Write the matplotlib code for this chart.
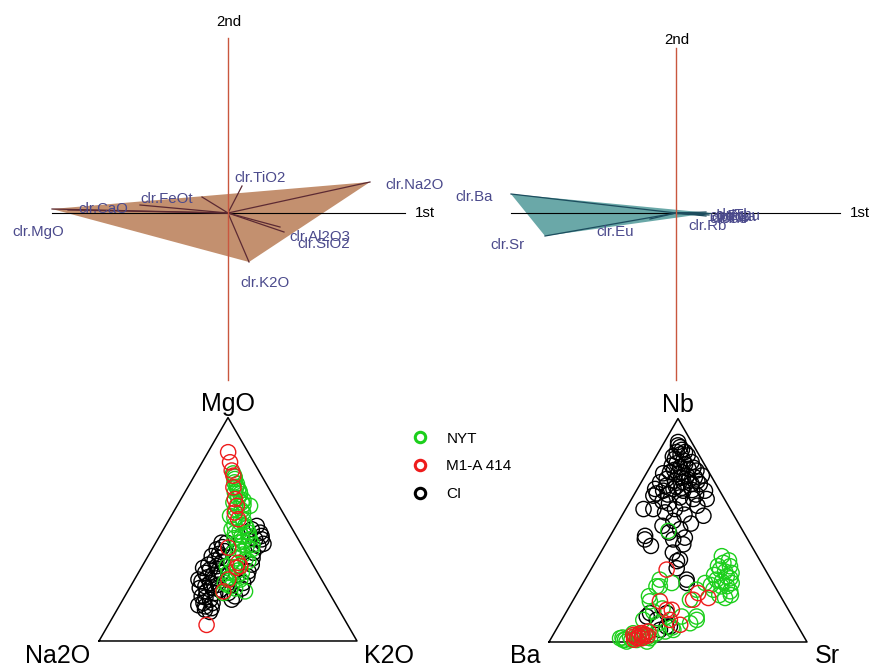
import numpy as np
import matplotlib.pyplot as plt
from matplotlib.lines import Line2D

plt.rcParams['font.family'] = ['Liberation Sans', 'DejaVu Sans']

# ---- biplot loadings (1st, 2nd component) ----
maj_names = ['clr.SiO2', 'clr.TiO2', 'clr.Al2O3', 'clr.FeOt', 'clr.MnO',
             'clr.MgO', 'clr.CaO', 'clr.Na2O', 'clr.K2O']
maj_pc1 = [0.56, 0.14, 0.52, -0.88, -0.26, -1.76, -1.60, 1.42, 0.21]
maj_pc2 = [-0.19, 0.27, -0.14, 0.08, 0.16, 0.04, 0.03, 0.31, -0.49]

tr_names = ['clr.Rb', 'clr.Zr', 'clr.Nb', 'clr.Th', 'clr.La', 'clr.Ce',
            'clr.Y', 'clr.Lu', 'clr.Ba', 'clr.Sr', 'clr.Eu']
tr_pc1 = [0.34, 0.30, 0.33, 0.31, 0.28, 0.29, 0.27, 0.30, -1.65, -1.31, -0.26]
tr_pc2 = [0.00, 0.01, -0.02, 0.00, -0.01, 0.00, -0.02, -0.03, 0.19, -0.23, -0.06]

# ---- ternary MgO - Na2O - K2O (percent; Na2O is the rest) ----
nyt_mgo = [75.0, 73.5, 72.5, 70.3, 68.0, 66.5, 65.8, 60.5, 62.0, 57.5, 53.0, 51.5,
           48.5, 47.0, 45.5, 44.0, 42.5, 39.5, 38.7, 35.0, 35.7, 30.5, 29.0, 26.0,
           24.5, 22.2, 21.5, 56.0, 50.0, 41.0, 27.5, 62.0, 48.5, 41.0, 33.5, 30.5,
           71.0, 69.0, 67.0, 64.0, 63.0, 61.0, 59.0, 58.5, 55.0, 54.0, 52.0, 50.5,
           49.0, 47.0, 46.0, 44.5, 43.0, 40.0, 37.0, 36.5, 33.0, 31.5, 28.5, 25.0,
           23.5]
nyt_k2o = [14.5, 15.8, 16.4, 18.3, 20.0, 19.4, 21.8, 28.3, 24.3, 27.1, 28.2, 30.9,
           33.7, 31.8, 35.8, 32.0, 36.0, 32.3, 36.5, 33.9, 40.0, 34.9, 38.9, 35.8,
           39.2, 45.5, 37.5, 22.8, 26.4, 38.7, 41.0, 21.1, 28.5, 33.5, 32.8, 40.1,
           17.0, 18.8, 21.0, 22.0, 24.5, 25.5, 23.5, 26.0, 25.0, 29.0, 26.5, 32.0,
           30.0, 34.5, 29.5, 33.5, 38.0, 35.5, 34.5, 38.5, 36.0, 38.0, 36.5, 37.5,
           41.0]
m1a_mgo = [84.5, 80.0, 76.3, 74.0, 63.5, 60.5, 57.5, 54.5, 41.8, 35.0, 32.7, 27.5,
           22.2, 7.2, 68.8, 33.5]
m1a_k2o = [7.8, 10.8, 13.3, 15.1, 20.9, 23.2, 23.9, 26.7, 29.2, 36.5, 37.0, 36.4,
           37.1, 38.1, 17.7, 38.0]
ci_mgo = [44.0, 41.0, 40.2, 38.0, 37.2, 34.2, 33.5, 30.5, 29.7, 30.5, 26.7, 26.0,
          25.2, 23.7, 22.2, 21.5, 20.0, 18.5, 15.5, 14.7, 21.5, 44.0, 27.5, 32.7,
          51.5, 48.5, 45.5, 45.5, 42.5, 39.5, 34.2, 31.2, 26.0, 50.0, 20.0, 18.5,
          14.0, 13.0, 42.0, 39.0, 36.0, 35.5, 32.0, 31.5, 28.5, 28.0, 24.5, 24.0,
          23.0, 19.5, 17.0, 17.0, 16.0, 47.0, 43.5, 37.0, 29.0, 23.5]
ci_k2o = [25.5, 25.1, 28.7, 24.7, 28.3, 25.3, 28.9, 25.9, 29.4, 32.3, 26.4, 30.0,
          33.6, 27.2, 30.6, 34.3, 29.8, 33.8, 33.4, 36.3, 39.4, 27.5, 24.8, 24.0,
          35.4, 38.2, 40.3, 37.8, 40.5, 40.0, 42.1, 42.3, 42.9, 34.2, 42.7, 42.2,
          34.1, 36.5, 26.8, 27.0, 26.8, 30.0, 27.0, 30.5, 27.8, 31.5, 29.0, 31.8,
          35.5, 31.5, 32.0, 35.5, 30.5, 39.5, 42.0, 41.0, 43.0, 43.5]

# ---- ternary Nb - Ba - Sr (percent; Ba is the rest) ----
nyt_nb = [38.4, 33.9, 32.4, 29.4, 27.9, 26.4, 24.9, 23.4, 22.7, 19.7, 30.9, 35.4,
          26.4, 23.4, 26.4, 24.9, 18.2, 18.9, 11.4, 11.4, 8.4, 9.9, 13.6, 8.4,
          5.4, 0.9, 2.4, 0.9, 2.4, 1.7, 3.9, 1.7, 3.9, 0.2, 0.2, 4.7, 49.7, 24.9,
          27.9, 9.9, 36.5, 34.0, 31.5, 30.0, 28.5, 27.0, 25.5, 25.0, 21.0, 21.0,
          2.0, 1.0, 3.0, 2.0, 1.0, 15.0, 20.5, 6.5]
nyt_sr = [47.8, 53.2, 50.1, 54.2, 51.0, 57.6, 54.4, 52.0, 58.9, 58.4, 55.3, 49.9,
          47.3, 45.5, 34.4, 30.5, 30.0, 45.2, 51.5, 45.7, 38.2, 31.6, 33.6, 50.5,
          45.5, 28.3, 30.2, 33.5, 35.4, 38.3, 39.7, 26.7, 30.7, 30.0, 37.9, 42.7,
          21.4, 29.2, 29.0, 52.3, 51.5, 48.5, 52.5, 49.0, 56.0, 53.5, 50.0, 56.5,
          55.5, 60.0, 27.5, 31.5, 33.0, 37.0, 29.0, 36.5, 28.5, 44.5]
m1a_nb = [32.4, 18.2, 14.4, 7.7, 9.9, 18.9, 21.9, 19.7, 3.2, 3.9, 3.2, 1.7, 4.7,
          1.7, 14.4, 2.5, 3.0, 2.0, 2.8, 1.0, 4.0]
m1a_sr = [29.4, 33.9, 40.4, 47.0, 41.9, 46.4, 46.9, 51.9, 31.1, 33.3, 35.6, 33.2,
          36.2, 35.1, 38.4, 32.0, 34.5, 33.8, 36.8, 32.5, 34.2]
ci_nb = [89.5, 87.2, 85.0, 85.0, 82.0, 81.2, 80.5, 79.0, 78.2, 77.5, 76.7, 76.0,
         75.2, 74.5, 73.7, 74.5, 73.0, 72.2, 71.5, 71.5, 70.7, 70.7, 68.5, 67.7,
         68.5, 67.7, 67.7, 65.5, 64.7, 64.0, 64.0, 59.5, 59.5, 59.5, 56.5, 58.0,
         54.2, 50.5, 47.5, 46.7, 36.2, 36.9, 27.9, 12.9, 9.9, 6.9, 12.9, 11.4,
         6.9, 5.4, 26.4, 45.9, 43.7, 45.9, 88.0, 86.0, 84.0, 83.0, 83.5, 80.0,
         79.5, 78.0, 77.0, 76.0, 75.5, 73.5, 72.5, 72.0, 70.0, 69.5, 69.0, 68.0,
         66.5, 66.0, 66.0, 63.0, 62.0, 62.0, 61.0, 57.0, 52.0, 53.0, 49.0, 43.0,
         40.0, 33.0]
ci_sr = [5.3, 7.2, 7.0, 10.2, 7.8, 11.5, 15.0, 8.1, 11.7, 15.3, 18.8, 8.9,
         12.5, 16.2, 19.7, 22.0, 9.1, 12.7, 16.4, 7.3, 19.9, 23.1, 6.9, 10.4,
         14.0, 18.2, 26.6, 7.7, 18.4, 23.9, 29.1, 6.9, 10.7, 19.1, 31.6, 16.0,
         21.1, 25.6, 13.5, 29.3, 31.5, 32.3, 39.4, 32.7, 36.8, 43.4, 39.2, 32.2,
         42.1, 40.3, 40.2, 25.2, 30.2, 14.2, 6.0, 8.5, 9.0, 6.5, 12.0, 9.5,
         13.0, 17.0, 10.0, 13.5, 6.5, 14.5, 18.0, 21.5, 10.5, 14.5, 17.0, 21.5,
         8.5, 13.0, 24.0, 12.5, 15.5, 21.0, 27.0, 24.0, 18.0, 28.5, 22.0, 18.0,
         28.0, 33.0]

group_labels = ['NYT', 'M1-A 414', 'CI']
group_colors = ['#1ccf1c', '#ee1c1c', 'black']
label_col = '#4b4a8c'
axis_red = '#c9573f'

W, H = 872, 668
fig = plt.figure(figsize=(W / 100, H / 100), dpi=100)


def px_axes(x0, y0, x1, y1):
    ax = fig.add_axes([x0 / W, 1 - y1 / H, (x1 - x0) / W, (y1 - y0) / H])
    ax.set_axis_off()
    return ax


def biplot(ax, names, pc1, pc2, hull, lab_pos, fill, line_col, h_ext, v_ext, first_at, second_at):
    idx = [names.index(n) for n in hull]
    ax.fill([pc1[i] for i in idx], [pc2[i] for i in idx], color=fill, lw=0, zorder=1)
    ax.plot(h_ext, [0, 0], color='black', lw=0.8, zorder=2)
    for x, y in zip(pc1, pc2):
        ax.plot([0, x], [0, y], color=line_col, lw=0.9, zorder=3)
    ax.plot([0, 0], v_ext, color=axis_red, lw=1.0, zorder=4)
    for n, (lx, ly) in lab_pos.items():
        ax.text(lx, ly, n, color=label_col, fontsize=10.8, ha='center', va='center', zorder=5)
    ax.text(first_at[0], first_at[1], '1st', fontsize=10.8, ha='center', va='center')
    ax.text(second_at[0], second_at[1], '2nd', fontsize=10.8, ha='center', va='center')


# top left: major elements
ax1 = px_axes(0, 0, 436, 395)
ax1.set_xlim(-2.28, 2.08)
ax1.set_ylim(-1.82, 2.13)
biplot(ax1, maj_names, maj_pc1, maj_pc2, ['clr.MgO', 'clr.Na2O', 'clr.K2O'],
       {'clr.TiO2': (0.32, 0.35), 'clr.Na2O': (1.87, 0.28), 'clr.FeOt': (-0.61, 0.14),
        'clr.CaO': (-1.25, 0.04), 'clr.MgO': (-1.90, -0.19), 'clr.Al2O3': (0.92, -0.24),
        'clr.SiO2': (0.96, -0.31), 'clr.K2O': (0.37, -0.70)},
       '#c3906f', '#5c2a33', [-1.76, 1.77], [-1.67, 1.75], (1.97, 0.0), (0.01, 1.91))

# top right: trace elements
ax2 = px_axes(436, 0, 872, 395)
ax2.set_xlim(-2.40, 1.96)
ax2.set_ylim(-1.82, 2.13)
biplot(ax2, tr_names, tr_pc1, tr_pc2, ['clr.Ba', 'clr.Rb', 'clr.Sr'],
       {'clr.Ba': (-2.02, 0.16), 'clr.Sr': (-1.69, -0.32), 'clr.Eu': (-0.61, -0.19),
        'clr.Zr': (0.50, -0.03), 'clr.Nb': (0.55, -0.05), 'clr.Th': (0.58, -0.02),
        'clr.La': (0.62, -0.04), 'clr.Ce': (0.52, -0.06), 'clr.Y': (0.60, -0.06),
        'clr.Lu': (0.66, -0.03), 'clr.Rb': (0.32, -0.13)},
       '#6aa8a8', '#1d4d5e', [-1.65, 1.64], [-1.67, 1.65], (1.84, 0.0), (0.01, 1.73))


def ternary(ax, tops, rights, corner_labels, label_pos):
    s3 = np.sqrt(3) / 2
    ax.plot([0, 1, 0.5, 0], [0, 0, s3, 0], color='black', lw=1.1, zorder=1)
    order = [2, 0, 1]  # CI underneath, then NYT, then M1-A 414 on top
    for k in order:
        t = np.array(tops[k]) / 100
        r = np.array(rights[k]) / 100
        ax.scatter(r + t / 2, t * s3, s=120, facecolors='none',
                   edgecolors=group_colors[k], linewidths=1.0, zorder=2 + order.index(k))
    (tx, ty), (lx, ly), (rx, ry) = label_pos
    ax.text(tx, ty, corner_labels[0], fontsize=18, ha='center', va='center')
    ax.text(lx, ly, corner_labels[1], fontsize=18, ha='center', va='baseline')
    ax.text(rx, ry, corner_labels[2], fontsize=18, ha='center', va='baseline')


ax3 = px_axes(40, 390, 420, 668)
ax3.set_xlim(-0.2287, 1.2442)
ax3.set_ylim(-0.1047, 0.9729)
ternary(ax3, [nyt_mgo, m1a_mgo, ci_mgo], [nyt_k2o, m1a_k2o, ci_k2o],
        ['MgO', 'Na2O', 'K2O'], [(0.5, 0.918), (-0.161, -0.085), (1.124, -0.085)])

ax4 = px_axes(480, 390, 872, 668)
ax4.set_xlim(-0.2674, 1.2519)
ax4.set_ylim(-0.1008, 0.9767)
ternary(ax4, [nyt_nb, m1a_nb, ci_nb], [nyt_sr, m1a_sr, ci_sr],
        ['Nb', 'Ba', 'Sr'], [(0.5, 0.918), (-0.093, -0.081), (1.078, -0.081)])

handles = [Line2D([], [], ls='none', marker='o', ms=7.5, mfc='none', mew=2.2, mec=c)
           for c in group_colors]
fig.legend(handles, group_labels, loc='upper left', bbox_to_anchor=(405 / W, 1 - 424 / H),
           frameon=False, fontsize=11, handlelength=1.0, handletextpad=1.2,
           labelspacing=0.9, borderpad=0, numpoints=1)

fig.savefig('out.png', dpi=100)
